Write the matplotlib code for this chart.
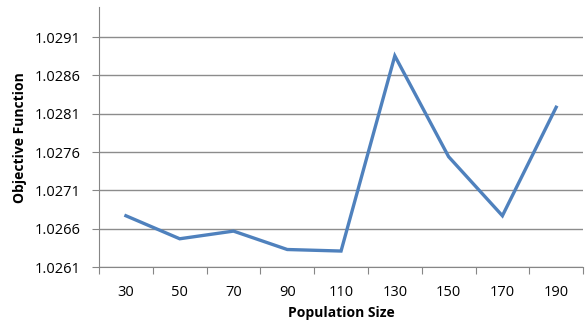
import numpy as np
import matplotlib
matplotlib.use("Agg")
import matplotlib.pyplot as plt

# data
pop_sizes = [30, 50, 70, 90, 110, 130, 150, 170, 190]
objective = [1.02677, 1.02647, 1.02657, 1.02633, 1.02631,
             1.028855, 1.02754, 1.02677, 1.028185]
y_ticks = [1.0261, 1.0266, 1.0271, 1.0276, 1.0281, 1.0286, 1.0291]

plt.rcParams['font.family'] = ['Open Sans', 'DejaVu Sans']

fig = plt.figure(figsize=(5.86, 3.25), dpi=100)
ax = fig.add_axes([0.169, 0.178, 0.826, 0.8])

x = np.arange(len(pop_sizes))
ax.plot(x, objective, color='#4F81BD', lw=2.4, solid_joinstyle='miter')

ax.set_xlim(-0.5, len(pop_sizes) - 0.5)
ax.set_ylim(1.0261, 1.02949)

# category labels centred, tick marks between categories
ax.set_xticks(np.arange(-0.5, len(pop_sizes)), labels=[])
ax.set_xticks(x, labels=[str(p) for p in pop_sizes], minor=True)
ax.tick_params(axis='x', which='major', length=5, color='#868686', direction='out')
ax.tick_params(axis='x', which='minor', length=0, pad=13, labelsize=10.5)

ax.set_yticks(y_ticks, labels=[f"{v:.4f}" for v in y_ticks])
ax.tick_params(axis='y', length=5, color='#868686', labelsize=10.5, pad=8)

ax.grid(axis='y', color='#8c8c8c', lw=1)
ax.set_axisbelow(True)

for s in ['top', 'right']:
    ax.spines[s].set_visible(False)
for s in ['left', 'bottom']:
    ax.spines[s].set_color('#868686')

ax.set_xlabel('Population Size', fontsize=10, fontweight='bold', labelpad=4)
ax.set_ylabel('Objective Function', fontsize=10, fontweight='bold', labelpad=6)

fig.savefig('out.png', dpi=100, facecolor='white')
